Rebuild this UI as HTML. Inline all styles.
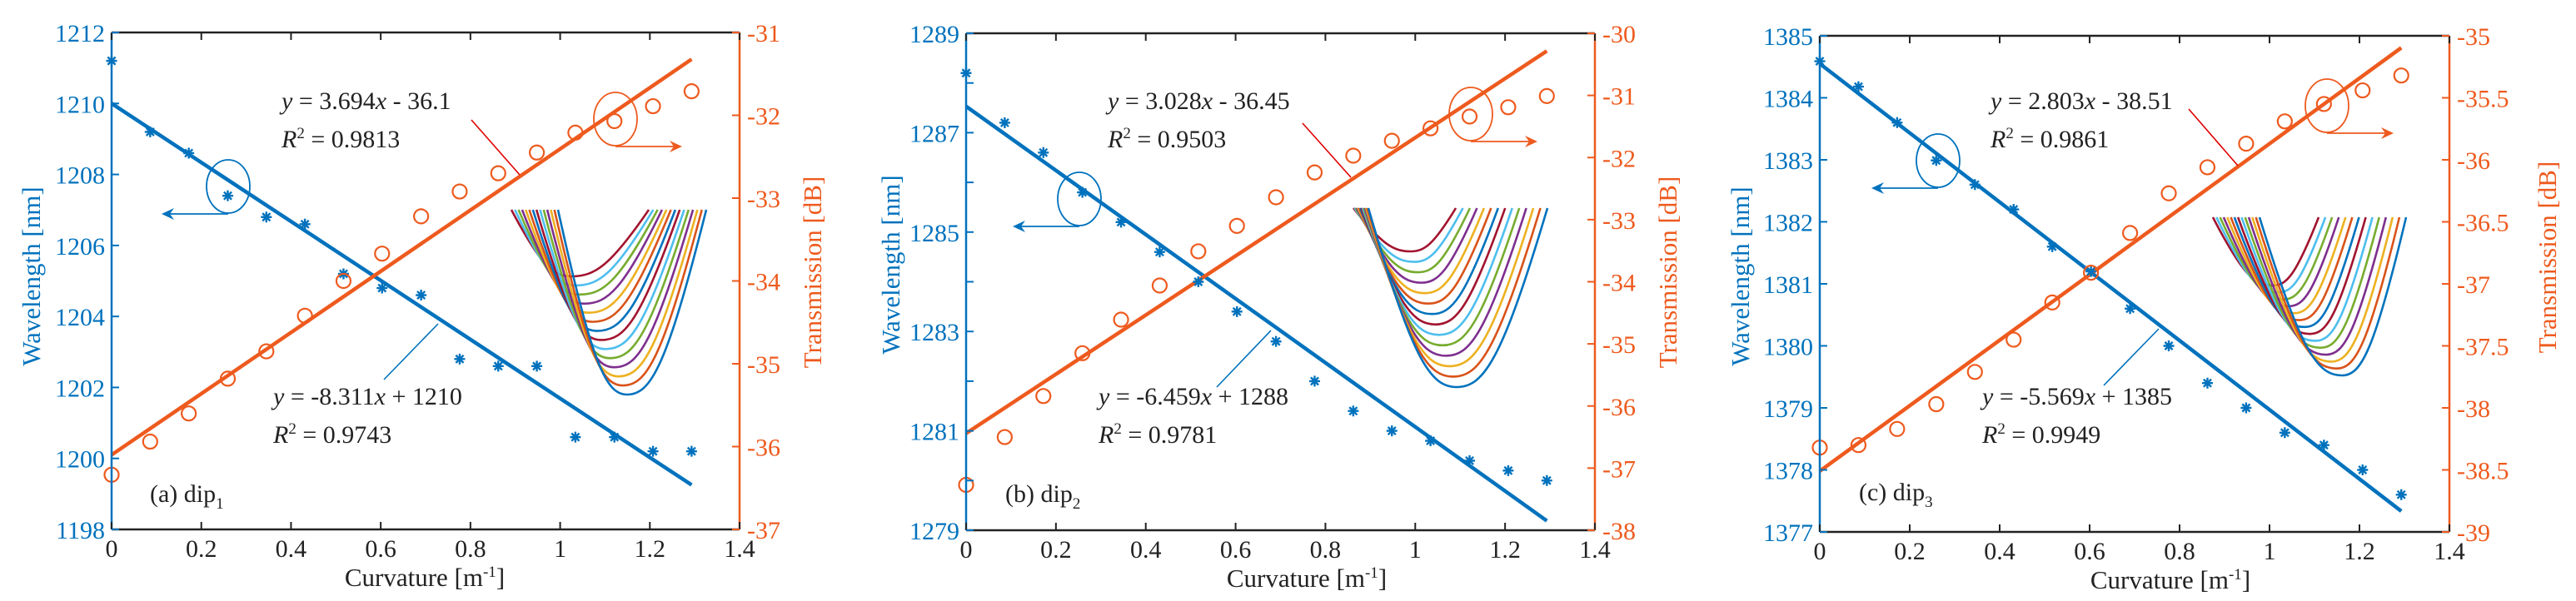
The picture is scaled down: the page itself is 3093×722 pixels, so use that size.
<!DOCTYPE html>
<html><head><meta charset="utf-8"><style>
html,body{margin:0;padding:0;background:#fff;}
svg{display:block;}
svg text{font-family:"Liberation Serif","DejaVu Serif",serif;}
</style></head><body>
<svg id="fig" width="3093" height="722" viewBox="0 0 3093 722" xmlns="http://www.w3.org/2000/svg" font-family="Liberation Serif, DejaVu Serif, serif"></svg>
<script>
// Shared x data (curvature m^-1)
const curvature = [0,0.086,0.172,0.259,0.345,0.431,0.517,0.603,0.69,0.776,0.862,0.948,1.034,1.121,1.207,1.293];
// Panel a
const wlA = [1211.2,1209.2,1208.6,1207.4,1206.8,1206.6,1205.2,1204.8,1204.6,1202.8,1202.6,1202.6,1200.6,1200.6,1200.2,1200.2];
const trA = [-36.34,-35.94,-35.6,-35.18,-34.85,-34.42,-34.0,-33.67,-33.22,-32.92,-32.7,-32.45,-32.21,-32.07,-31.89,-31.71];
const fitWlA = [-8.311,1210];
const fitTrA = [3.694,-36.1];
const leftTicksA = [1198,1200,1202,1204,1206,1208,1210,1212];
const rightTicksA = [-37,-36,-35,-34,-33,-32,-31];
// Panel b
const wlB = [1288.2,1287.2,1286.6,1285.8,1285.2,1284.6,1284.0,1283.4,1282.8,1282.0,1281.4,1281.0,1280.8,1280.4,1280.2,1280.0];
const trB = [-37.27,-36.5,-35.84,-35.15,-34.61,-34.06,-33.51,-33.1,-32.64,-32.24,-31.97,-31.73,-31.53,-31.34,-31.19,-31.01];
const fitWlB = [-6.45,1287.53];
const fitTrB = [4.76,-36.44];
const leftTicksB = [1279,1280,1281,1282,1283,1284,1285,1286,1287,1288,1289];
const leftLabelsB = [1279,1281,1283,1285,1287,1289];
const rightTicksB = [-38,-37,-36,-35,-34,-33,-32,-31,-30];
// Panel c
const wlC = [1384.59,1384.18,1383.6,1382.99,1382.6,1382.2,1381.6,1381.2,1380.6,1380.0,1379.4,1379.0,1378.6,1378.4,1378.0,1377.6];
const trC = [-38.32,-38.30,-38.17,-37.97,-37.71,-37.45,-37.15,-36.91,-36.59,-36.27,-36.06,-35.87,-35.69,-35.55,-35.44,-35.32];
const fitWlC = [-5.58,1384.55];
const fitTrC = [2.64,-38.51];
const leftTicksC = [1377,1378,1379,1380,1381,1382,1383,1384,1385];
const rightTicksC = [-39,-38.5,-38,-37.5,-37,-36.5,-36,-35.5,-35];
const xTicks = [0,0.2,0.4,0.6,0.8,1,1.2,1.4];

const BLUE='#0072BD', ORANGE='#EE5A1E';
const insetColors=['#0072BD','#D95319','#EDB120','#7E2F8E','#77AC30','#4DBEEE','#A2142F'];
const NS='http://www.w3.org/2000/svg';
const FONT='Liberation Serif, DejaVu Serif, serif';
const svg=document.getElementById('fig');
function el(tag,attrs,parent){const e=document.createElementNS(NS,tag);for(const k in attrs)e.setAttribute(k,attrs[k]);if(tag==='text')e.setAttribute('font-family',FONT);(parent||svg).appendChild(e);return e;}

function panel(P){
  const g=el('g',{});
  
  
  const sx=v=>P.L+(v-0)/(1.4)*(P.R-P.L);
  const syL=v=>P.B-(v-P.lmin)/(P.lmax-P.lmin)*(P.B-P.T);
  const syR=v=>P.B-(v-P.rmin)/(P.rmax-P.rmin)*(P.B-P.T);
  // inset
  const ig=el('g',{},g);
  
  
  const N=14, I=P.inset;
  for(let i=N-1;i>=0;i--){
    const f=i/(N-1);
    const lerp=(a,b)=>b+(a-b)*(1-f);
    const lx=lerp(I.d[1],I.s[1]), mx=lerp(I.d[0],I.s[0]), my=lerp(I.d[2],I.s[2]), rx=lerp(I.d[3],I.s[3]);
    const t=I.top;
    const d=`M${lx},${t} C${lx+(mx-lx)*0.5},${t+(my-t)*0.85} ${mx-(mx-lx)*0.3},${my} ${mx},${my} C${mx+(rx-mx)*0.3},${my} ${rx-(rx-mx)*0.5},${t+(my-t)*0.85} ${rx},${t}`;
    const p=el('path',{d,fill:'none',stroke:insetColors[i%7],'stroke-width':2.6},ig);
    
    
  }
  // fit lines
  const x1=curvature[curvature.length-1];
  const fb=el('line',{x1:sx(0),y1:syL(P.fw[1]),x2:sx(x1),y2:syL(P.fw[0]*x1+P.fw[1]),stroke:BLUE,'stroke-width':4.5},g);
  
  
  const fo=el('line',{x1:sx(0),y1:syR(P.ft[1]),x2:sx(x1),y2:syR(P.ft[0]*x1+P.ft[1]),stroke:ORANGE,'stroke-width':4.5},g);
  
  
  // markers
  curvature.forEach((c,i)=>{
    const cx=sx(c), cy=syL(P.wl[i]);
    const s=el('path',{d:`M${cx-6.5},${cy}H${cx+6.5}M${cx},${cy-6.5}V${cy+6.5}M${cx-4.6},${cy-4.6}L${cx+4.6},${cy+4.6}M${cx-4.6},${cy+4.6}L${cx+4.6},${cy-4.6}`,stroke:BLUE,'stroke-width':2.4,fill:'none'},g);
    
    
    const o=el('circle',{cx,cy:syR(P.tr[i]),r:8.5,fill:'none',stroke:ORANGE,'stroke-width':2.2},g);
    
    
  });
  // axes box
  el('line',{x1:P.L,y1:P.T,x2:P.R,y2:P.T,stroke:'#222','stroke-width':2.5},g);
  el('line',{x1:P.L,y1:P.B,x2:P.R,y2:P.B,stroke:'#222','stroke-width':2.5},g);
  el('line',{x1:P.L,y1:P.T,x2:P.L,y2:P.B,stroke:BLUE,'stroke-width':2.5},g);
  el('line',{x1:P.R,y1:P.T,x2:P.R,y2:P.B,stroke:ORANGE,'stroke-width':2.5},g);
  xTicks.forEach(v=>{
    const x=sx(v);
    el('line',{x1:x,y1:P.B,x2:x,y2:P.B-9,stroke:'#222','stroke-width':2},g);
    el('line',{x1:x,y1:P.T,x2:x,y2:P.T+9,stroke:'#222','stroke-width':2},g);
    const t=el('text',{x,y:P.B+33,'font-size':30,'text-anchor':'middle',fill:'#222'},g);
    t.textContent=String(v);
    
    
  });
  P.lt.forEach(v=>{
    const y=syL(v);
    el('line',{x1:P.L,y1:y,x2:P.L+9,y2:y,stroke:BLUE,'stroke-width':2},g);
    if(P.ll.indexOf(v)>=0){
      const t=el('text',{x:P.L-8,y:y+11,'font-size':30,'text-anchor':'end',fill:BLUE},g);
      t.textContent=String(v);
      
      
    }
  });
  P.rt.forEach(v=>{
    const y=syR(v);
    el('line',{x1:P.R,y1:y,x2:P.R-9,y2:y,stroke:ORANGE,'stroke-width':2},g);
    const t=el('text',{x:P.R+9,y:y+11,'font-size':30,'text-anchor':'start',fill:ORANGE},g);
    t.textContent=String(v);
    
    
  });
  // axis titles
  const yl=el('text',{x:0,y:0,'font-size':31,'text-anchor':'middle',fill:BLUE,transform:`translate(${P.ylx},${P.yly}) rotate(-90)`},g);
  yl.textContent='Wavelength [nm]';
  
  
  const yr=el('text',{x:0,y:0,'font-size':31,'text-anchor':'middle',fill:ORANGE,transform:`translate(${P.yrx},${P.yry}) rotate(-90)`},g);
  yr.textContent='Transmission [dB]';
  
  
  const xl=el('text',{x:P.xlx,y:P.B+68,'font-size':31,'text-anchor':'middle',fill:'#222'},g);
  xl.innerHTML='Curvature [m<tspan dy="-11" font-size="19">-1</tspan><tspan dy="11">]</tspan>';
  
  
  // panel label
  const pl=el('text',{x:P.lab[0],y:P.lab[1],'font-size':30,fill:'#222'},g);
  pl.innerHTML=`(${P.id}) dip<tspan dy="8" font-size="19">${P.n}</tspan>`;
  
  
  // annotations
  const eq=(x,y,a,b,r2,name)=>{
    const t=el('text',{x,y,'font-size':30,fill:'#222'},g);
    t.innerHTML=`<tspan font-style="italic">y</tspan> = ${a}<tspan font-style="italic">x</tspan> ${b}`;
    
    
    const r=el('text',{x,y:y+46,'font-size':30,fill:'#222'},g);
    r.innerHTML=`<tspan font-style="italic">R</tspan><tspan dy="-11" font-size="19">2</tspan><tspan dy="11"> = ${r2}</tspan>`;
    
    
  };
  eq(P.e1[0],P.e1[1],P.e1[2],P.e1[3],P.e1[4],'transmission-fit');
  eq(P.e2[0],P.e2[1],P.e2[2],P.e2[3],P.e2[4],'wavelength-fit');
  el('line',{x1:P.rl[0],y1:P.rl[1],x2:P.rl[2],y2:P.rl[3],stroke:'#E00000','stroke-width':1.6},g);
  el('line',{x1:P.bl[0],y1:P.bl[1],x2:P.bl[2],y2:P.bl[3],stroke:BLUE,'stroke-width':1.6},g);
  // ellipses & arrows
  const ell=(cx,cy,col,dir,name)=>{
    const e=el('ellipse',{cx,cy,rx:26,ry:32,fill:'none',stroke:col,'stroke-width':1.8},g);
    
    
    const y=cy+33, x2=cx+dir*80;
    el('line',{x1:cx,y1:y,x2:x2-dir*8,y2:y,stroke:col,'stroke-width':1.8},g);
    const a=el('path',{d:`M${x2},${y} L${x2-dir*15},${y-7} L${x2-dir*10},${y} L${x2-dir*15},${y+7}Z`,fill:col},g);
    
    
  };
  ell(P.be[0],P.be[1],BLUE,-1,'left-axis');
  ell(P.oe[0],P.oe[1],ORANGE,1,'right-axis');
}

panel({id:'a',n:'1',L:134,R:888,T:39,B:636,lmin:1198,lmax:1212,rmin:-37,rmax:-31,
 wl:wlA,tr:trA,fw:fitWlA,ft:fitTrA,lt:leftTicksA,ll:leftTicksA,rt:rightTicksA,
 ylx:48,yly:332,yrx:986,yry:327,xlx:510,lab:[180,603],
 e1:[338,131,'3.694','- 36.1','0.9813'],e2:[328,486,'-8.311','+ 1210','0.9743'],
 rl:[566,144,624,210],bl:[526,389,461,456],be:[274,224],oe:[739,143],
 inset:{top:252,s:[686,614,332,779],d:[753,670,474,848]}});
panel({id:'b',n:'2',L:1160,R:1915,T:40,B:637,lmin:1279,lmax:1289,rmin:-38,rmax:-30,
 wl:wlB,tr:trB,fw:fitWlB,ft:fitTrB,lt:leftTicksB,ll:leftLabelsB,rt:rightTicksB,
 ylx:1080,yly:318,yrx:2013,yry:327,xlx:1569,lab:[1207,603],
 e1:[1330,131,'3.028','- 36.45','0.9503'],e2:[1319,486,'-6.459','+ 1288','0.9781'],
 rl:[1564,148,1622,213],bl:[1526,397,1461,465],be:[1296,239],oe:[1766,137],
 inset:{top:250,s:[1694,1625,302,1748],d:[1749,1643,465,1858]}});
panel({id:'c',n:'3',L:2185,R:2941,T:43,B:639,lmin:1377,lmax:1385,rmin:-39,rmax:-35,
 wl:wlC,tr:trC,fw:fitWlC,ft:fitTrC,lt:leftTicksC,ll:leftTicksC,rt:rightTicksC,
 ylx:2100,yly:332,yrx:3069,yry:309,xlx:2606,lab:[2232,601],
 e1:[2390,131,'2.803','- 38.51','0.9861'],e2:[2380,486,'-5.569','+ 1385','0.9949'],
 rl:[2628,131,2687,199],bl:[2592,395,2526,463],be:[2327,193],oe:[2794,127],
 inset:{top:261,s:[2729,2657,343,2784],d:[2812,2713,451,2889]}});
</script>
</body></html>
